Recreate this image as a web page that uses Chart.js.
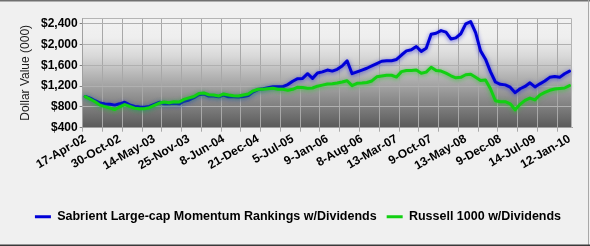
<!DOCTYPE html>
<html><head><meta charset="utf-8">
<script src="https://cdn.jsdelivr.net/npm/chart.js@4/dist/chart.umd.min.js"></script>
<style>html,body{margin:0;padding:0;background:#f0f0f0;overflow:hidden}#wrap{width:590px;height:246px;position:relative}</style>
</head><body><div id="wrap"><canvas id="c" width="590" height="246"></canvas></div>
<script>
const tickLabels = ['17-Apr-02','30-Oct-02','14-May-03','25-Nov-03','8-Jun-04','21-Dec-04','5-Jul-05','9-Jan-06','8-Aug-06','13-Mar-07','9-Oct-07','13-May-08','9-Dec-08','14-Jul-09','12-Jan-10'];
const yTicks = [400, 800, 1200, 1600, 2000, 2400];
const seriesNames = ['Sabrient Large-cap Momentum Rankings w/Dividends', 'Russell 1000 w/Dividends'];
const sabrient = [
1000,970,920,875,855,850,835,860,890,840,
810,800,795,810,850,890,860,860,870,860,
910,935,980,1035,1050,1010,1010,995,1030,995,
995,990,1000,1020,1090,1135,1150,1170,1190,1190,
1190,1230,1295,1345,1350,1440,1350,1455,1475,1510,
1490,1525,1590,1690,1440,1475,1510,1545,1590,1635,
1680,1690,1690,1715,1800,1880,1900,1965,1870,1930,
2200,2220,2270,2240,2110,2130,2210,2400,2445,2230,
1880,1720,1480,1280,1235,1225,1180,1075,1150,1195,
1265,1185,1245,1300,1370,1385,1370,1440,1490];
const russell = [
1000,950,900,835,805,780,750,800,845,810,
775,765,765,785,830,875,895,880,900,895,
945,975,1000,1060,1070,1035,1030,1010,1050,1030,
1015,1010,1030,1050,1110,1140,1140,1150,1160,1140,
1140,1120,1140,1180,1175,1160,1165,1200,1220,1240,
1245,1260,1280,1305,1210,1255,1260,1270,1300,1380,
1395,1410,1410,1375,1480,1500,1500,1510,1450,1470,
1565,1500,1490,1450,1400,1360,1370,1420,1430,1370,
1310,1320,1150,920,900,900,860,745,850,925,
970,935,1030,1080,1120,1145,1155,1165,1210];
const categories = sabrient.map((v, i) => (i % 7 === 0 && tickLabels[i / 7]) ? tickLabels[i / 7] : '');

const framePlugin = {
  id: 'frame',
  beforeDraw(chart) {
    const {ctx, chartArea: a, width, height} = chart;
    ctx.save();
    ctx.fillStyle = '#f0f0f0';
    ctx.fillRect(0, 0, width, height);
    const g = ctx.createLinearGradient(0, a.top, 0, a.bottom);
    g.addColorStop(0, '#f2f2f2');
    g.addColorStop(0.18, '#eeeeee');
    g.addColorStop(0.35, '#d8d8d8');
    g.addColorStop(0.6, '#a6a6a6');
    g.addColorStop(1, '#5a5a5a');
    ctx.fillStyle = g;
    ctx.fillRect(a.left, a.top, a.right - a.left, a.bottom - a.top);
    ctx.restore();
  },
  afterDraw(chart) {
    const {ctx, chartArea: a, width, height} = chart;
    ctx.save();
    ctx.strokeStyle = '#b4b4b4';
    ctx.lineWidth = 1;
    ctx.beginPath();
    ctx.moveTo(a.left, a.top + 0.5); ctx.lineTo(a.right - 0.5, a.top + 0.5); ctx.lineTo(a.right - 0.5, a.bottom);
    ctx.stroke();
    ctx.fillStyle = '#707070';
    ctx.fillRect(0, 0, width, 1.5);
    ctx.fillStyle = '#a8a8a8';
    ctx.fillRect(width - 2, 0, 1, height);
    ctx.fillStyle = '#3a3a3a';
    ctx.fillRect(0, height - 1.5, width, 1.5);
    ctx.restore();
  }
};
const glowPlugin = {
  id: 'glow',
  beforeDatasetDraw(chart, args) {
    const ctx = chart.ctx;
    ctx.save();
    ctx.shadowColor = args.index === 0 ? 'rgba(40,40,220,0.7)' : 'rgba(40,200,40,0.7)';
    ctx.shadowBlur = 4;
    ctx.shadowOffsetX = 0;
    ctx.shadowOffsetY = 1;
  },
  afterDatasetDraw(chart) { chart.ctx.restore(); }
};

new Chart(document.getElementById('c'), {
  type: 'line',
  data: {
    labels: categories,
    datasets: [
      {label: seriesNames[0], data: sabrient, order: 1, borderColor: '#0000d8', backgroundColor: '#0000d8', borderWidth: 3, pointRadius: 0, tension: 0, borderJoinStyle: 'round', borderCapStyle: 'round'},
      {label: seriesNames[1], data: russell, order: 0, borderColor: '#12d012', backgroundColor: '#12d012', borderWidth: 3, pointRadius: 0, tension: 0, borderJoinStyle: 'round', borderCapStyle: 'round'}
    ]
  },
  options: {
    responsive: false,
    animation: false,
    devicePixelRatio: 1,
    layout: {padding: {top: 18, right: 18, bottom: 13, left: 24}},
    plugins: {
      legend: {
        position: 'bottom',
        labels: {usePointStyle: true, pointStyle: 'line', pointStyleWidth: 16, color: '#000', sort: (a, b) => a.datasetIndex - b.datasetIndex, font: {family: 'Liberation Sans, Arial, sans-serif', size: 12.5, weight: 'bold'}, padding: 10}
      },
      tooltip: {enabled: false}
    },
    scales: {
      x: {
        type: 'category',
        offset: true,
        afterFit(s) { s.height = 72.8; },
        grid: {offset: true, color: c => (c.index % 4 === 0 ? '#a8a8a8' : 'rgba(0,0,0,0)'), tickLength: 4, lineWidth: 1},
        border: {color: '#a0a0a0'},
        ticks: {autoSkip: false, maxRotation: 30, minRotation: 30, padding: 0, color: '#000', font: {family: 'Liberation Sans, Arial, sans-serif', size: 12, weight: 'bold'}}
      },
      y: {
        min: 400,
        max: 2513,
        afterBuildTicks(s) { s.ticks = yTicks.map(v => ({value: v})); },
        afterFit(s) { s.width = 58.7; },
        grid: {color: '#b0b0b0', tickLength: 3, tickColor: '#808080'},
        border: {color: '#a0a0a0'},
        ticks: {padding: 2, color: '#000', font: {family: 'Liberation Sans, Arial, sans-serif', size: 12, weight: 'bold'}, callback: v => '$' + Number(v).toLocaleString('en-US')},
        title: {display: true, text: 'Dollar Value (000)', color: '#1a1a1a', font: {family: 'Liberation Sans, Arial, sans-serif', size: 12}, padding: {top: -5.7, bottom: 0}}
      }
    }
  },
  plugins: [framePlugin, glowPlugin]
});
</script>
</body></html>
